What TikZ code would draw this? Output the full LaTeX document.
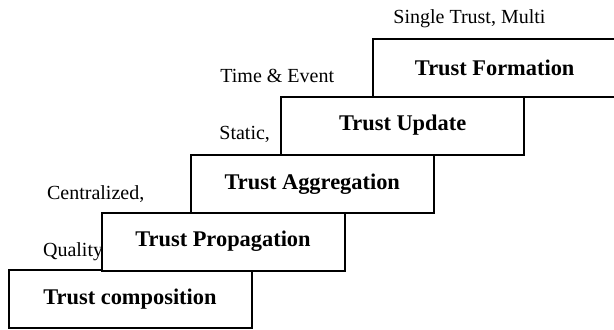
\documentclass[tikz,border=0pt]{standalone}
\usepackage{fontspec}
\setmainfont{Liberation Serif}
\usetikzlibrary{positioning}

\begin{document}
\begin{tikzpicture}[x=0.5pt, y=0.5pt,
stepbox/.style = {draw, line width=1pt, fill=white, inner sep=0pt,
  minimum width=121.5pt, minimum height=29pt,
  font=\fontsize{11.2}{13}\selectfont\bfseries},
kind/.style = {anchor=west, inner sep=0pt, font=\fontsize{10}{12}\selectfont}]
\useasboundingbox (0,0) rectangle (614,329);
\clip (0,0) rectangle (614,329);

\node[stepbox] (comp) at (130,30) {Trust composition};
\node[stepbox] (prop) at (223,87.5) {Trust Propagation};
\node[stepbox] (aggr) at (312.3,145.3) {Trust Aggregation};
\node[stepbox] (upd) at (402.7,203.5) {Trust Update};
\node[stepbox] (form) at (494.7,261.3) {Trust Formation};

\node[kind] (quality) at (42.7,77) {Quality};
\node[kind] (central) at (46.7,135) {Centralized,};
\node[kind] (static) at (219,194.5) {Static,};
\node[kind] (timeev) at (220,253) {Time \& Event};
\node[kind] (single) at (393,310) {Single Trust, Multi};
\end{tikzpicture}
\end{document}
